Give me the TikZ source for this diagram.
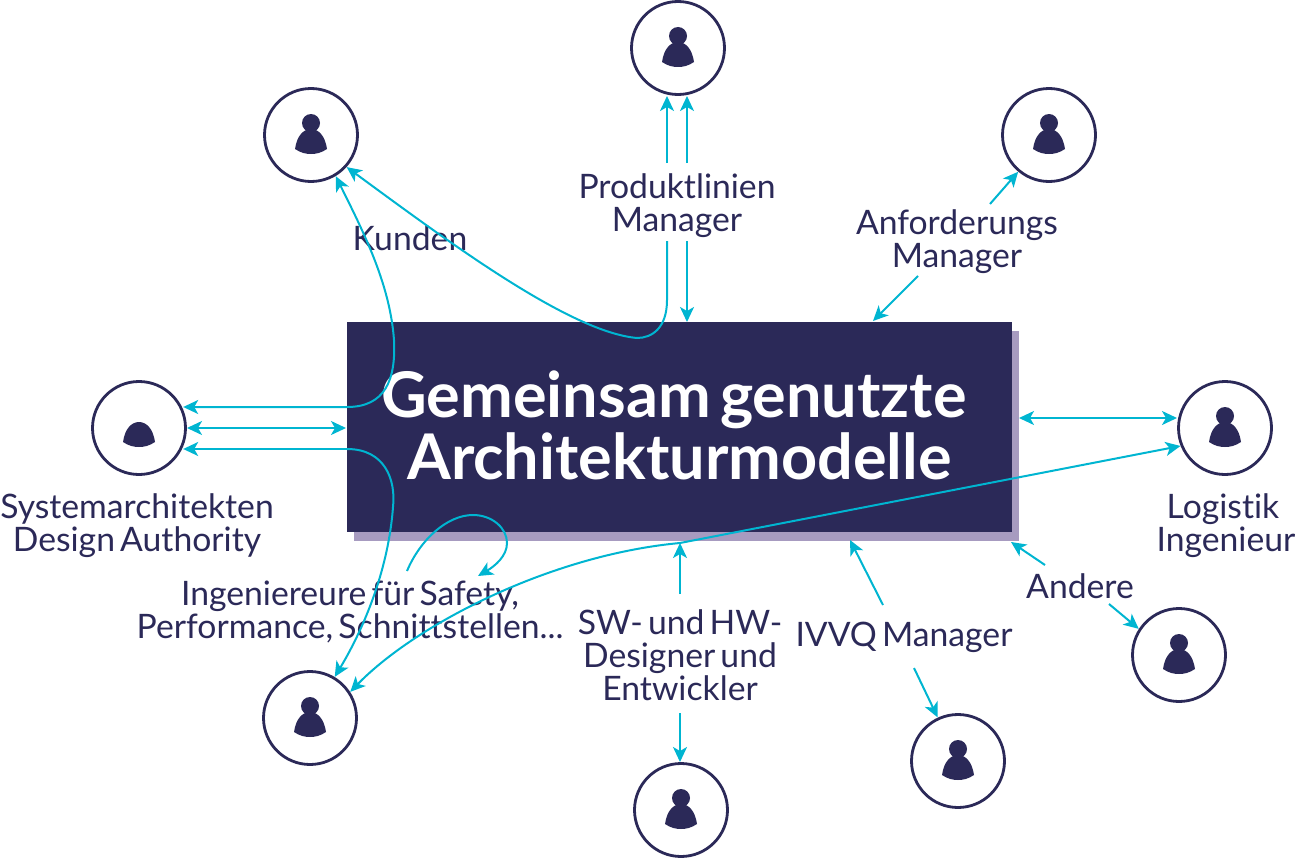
\documentclass[tikz,border=0pt]{standalone}
\usepackage{fontspec}
\setmainfont{Lato}[Ligatures=CommonOff,WordSpace=0.6]
\usetikzlibrary{arrows.meta,positioning}
\definecolor{mdnavy}{RGB}{43,41,88}
\definecolor{mdshadow}{RGB}{167,155,192}
\definecolor{mdcyan}{RGB}{0,181,209}
\begin{document}
\begin{tikzpicture}[x=1pt,y=-1pt,
  rolecircle/.style={draw=mdnavy, line width=2.8pt, circle, fill=white, minimum size=93pt, inner sep=0pt, outer sep=1.5pt},
  rolelabel/.style={font=\fontsize{33.7}{33}\selectfont, text=mdnavy, align=center, inner sep=0pt},
  link/.style={-{Stealth[length=15pt,width=14pt,inset=4pt]}, mdcyan, line width=2pt},
  twoway/.style={{Stealth[length=15pt,width=14pt,inset=4pt]}-{Stealth[length=15pt,width=14pt,inset=4pt]}, mdcyan, line width=2pt},
  pics/figbody/.style={code={\fill[mdnavy] (-16,14) .. controls (-14,0) and (-7,-6) .. (0,-6) .. controls (7,-6) and (14,0) .. (16,14) .. controls (10,18) and (5,19) .. (0,19) .. controls (-5,19) and (-10,18) .. (-16,14) -- cycle;}},
  pics/fighead/.style={code={\fill[mdnavy] (0,-12) circle (9);}}]
\useasboundingbox (0,0) rectangle (1295,859);
% Central box with shadow
\fill[mdshadow] (354,331) rectangle (1019,541);
\node[fill=mdnavy, minimum width=665pt, minimum height=210pt, inner sep=0pt, outer sep=0pt] (model) at (679.5,427) {};
\node[text=white, align=center, inner sep=0pt, font=\fontsize{63}{62}\selectfont\bfseries] (mtitle) at (679.5,425) {Gemeinsam genutzte\kern11pt\\Architekturmodelle};
% Roles
\foreach \rname/\rx/\ry in {kunde/311/135, produkt/678/48, anford/1049/135, logistik/1225/428, andere/1179/655, ivvq/958/761, design/681/810, safety/310/718}{
  \node[rolecircle] (\rname) at (\rx,\ry) {};
  \pic at (\rname.center) {figbody};
  \pic at (\rname.center) {fighead};
}
\node[rolecircle] (sysarch) at (139,428) {};
\pic at (sysarch.center) {figbody};
% Labels
\node[rolelabel] (lsysarch) at (137,526) {Systemarchitekten\\Design Authority};
\node[rolelabel] (lkunde) at (410,238) {Kunden};
\node[rolelabel] (lprodukt) at (677,206) {Produktlinien\\Manager};
\node[rolelabel] (lanford) at (957,242) {Anforderungs\\Manager};
\node[rolelabel] (llogistik) at (1226,526) {Logistik\kern6pt\\Ingenieur};
\node[rolelabel] (landere) at (1080,586) {Andere};
\node[rolelabel] (livvq) at (904,637) {IVVQ Manager};
\node[rolelabel] (ldesign) at (680,655.5) {SW- und HW-\\Designer und\\Entwickler};
\node[rolelabel] (lsafety) at (350,612) {Ingeniereure für Safety,\\Performance, Schnittstellen...};
% Free ends
\coordinate (pa) at (667,163);
\coordinate (pb) at (687,163);
\coordinate (pc) at (667,241);
\coordinate (pd) at (687,241);
\coordinate (pe) at (687,322);
\coordinate (fa) at (990,204);
\coordinate (fb) at (918,276);
\coordinate (fc) at (873,321);
\coordinate (sa) at (347,407);
\coordinate (sb) at (347,449);
\coordinate (sc) at (346,428);
\coordinate (lr) at (1019,418);
\coordinate (da) at (680,594);
\coordinate (db) at (680,543);
\coordinate (dc) at (680,713);
\coordinate (ia) at (883,605);
\coordinate (ib) at (850,540);
\coordinate (ic) at (914,668);
\coordinate (aa) at (1045,565);
\coordinate (ab) at (1011,542);
\coordinate (ac) at (1109,604);
\coordinate (la) at (407,571);
\coordinate (lb) at (478,576);
% Kunden
\draw[twoway] (sysarch.23 |- sa) -- (sa) .. controls (385,407) and (396,380) .. (394,340) .. controls (390,285) and (365,235) .. (kunde.-59);
\draw[link] (pc) -- (667,300) .. controls (667,328) and (652,338) .. (637,338) .. controls (570,332) and (450,243) .. (kunde.-42);
% Produktlinien
\draw[link] (pa) -- (pa |- produkt.south);
\draw[link] (pb) -- (pb |- produkt.south);
\draw[link] (pd) -- (pe);
% Anforderungs
\draw[link] (fa) -- (anford.-130);
\draw[link] (fb) -- (fc);
% Logistik
\draw[twoway] (lr) -- (logistik.west |- lr);
\draw[twoway] (safety.33) .. controls (415,625) and (550,555) .. (680,543) -- (logistik.-158);
% Systemarchitekten
\draw[twoway] (sysarch.east) -- (sc);
\draw[link] (sb) .. controls (385,449) and (396,480) .. (393,507) .. controls (388,575) and (360,635) .. (safety.59);
\draw[link] (sb) -- (sysarch.-23 |- sb);
% Safety loop
\draw[link] (la) .. controls (420,540) and (447,515) .. (473,515) .. controls (492,515) and (507,528) .. (507,543) .. controls (507,556) and (495,566) .. (lb);
% Designer
\draw[link] (da) -- (db);
\draw[link] (dc) -- (dc |- design.north);
% IVVQ
\draw[link] (ia) -- (ib);
\draw[link] (ic) -- (ivvq.115);
% Andere
\draw[link] (aa) -- (ab);
\draw[link] (ac) -- (andere.147);
\end{tikzpicture}
\end{document}
